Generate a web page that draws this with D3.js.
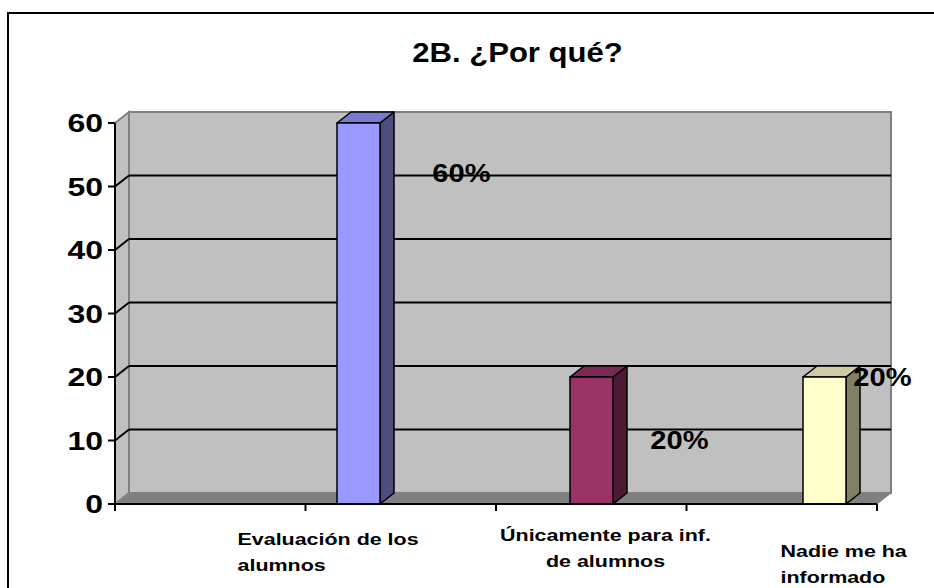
<!DOCTYPE html>
<html><head><meta charset="utf-8">
<script src="https://cdn.jsdelivr.net/npm/d3@7"></script>
<style>body{margin:0;background:#fff}svg{display:block}text{font-family:"Liberation Sans",Arial,sans-serif;font-weight:bold;fill:#000}</style>
</head><body>
<script>
// ---- data ----
const title = "2B. ¿Por qué?";
const categories = ["Evaluación de los alumnos", "Únicamente para inf. de alumnos", "Nadie me ha informado"];
const categoryLines = [["Evaluación de los", "alumnos"], ["Únicamente para inf.", "de alumnos"], ["Nadie me ha", "informado"]];
const values = [60, 20, 20];
const valueLabels = ["60%", "20%", "20%"];
const yTicks = [0, 10, 20, 30, 40, 50, 60];

// ---- layout ----
const W = 934, H = 588;
const DX = 14, DY = -11;
const frontColors = ["#9999ff", "#993366", "#ffffcc"];
const sideColors = ["#4d4d80", "#4d1a33", "#808066"];
const topColors = ["#7a7acc", "#7a2952", "#ccccA3"];
const valDx = [103, 88, 58], valDy = [59, 72, 9];
const catAnchor = ["start", "middle", "start"], catDx = [-121, 14, -44], catBase = [545, 541, 557];

const svg = d3.select("body").append("svg").attr("width", W).attr("height", H);
const y = d3.scaleLinear().domain([0, 60]).range([504, 123]);
const xAxisScale = d3.scaleLinear().domain([0, 4]).range([115, 877]);
const xBar = d3.scalePoint().domain(categories).range([358.5, 824.5]);
const bw = 43;
const x0 = 115, x1 = 877, y0 = y(0), yTop = y(60);

svg.append("rect").attr("x", 8).attr("y", 13).attr("width", 940).attr("height", 600)
  .attr("fill", "#fff").attr("stroke", "#000").attr("stroke-width", 2);

function stext(g, x, yy, txt, size, sx, anchor) {
  g.append("g").attr("transform", `translate(${x},${yy}) scale(${sx},1)`)
    .append("text").attr("font-size", size).attr("text-anchor", anchor).text(txt);
}

stext(svg, 517.5, 62, title, 27, 1.15, "middle");

const pts = a => a.map(p => p.join(",")).join(" ");
// walls
svg.append("polygon").attr("points", pts([[x0 + DX, yTop + DY], [x1 + DX, yTop + DY], [x1 + DX, y0 + DY], [x0 + DX, y0 + DY]]))
  .attr("fill", "#c0c0c0").attr("stroke", "#808080").attr("stroke-width", 2);
svg.append("polygon").attr("points", pts([[x0, yTop], [x0 + DX, yTop + DY], [x0 + DX, y0 + DY], [x0, y0]]))
  .attr("fill", "#c0c0c0").attr("stroke", "#808080").attr("stroke-width", 2);
svg.append("polygon").attr("points", pts([[x0, y0], [x1, y0], [x1 + DX, y0 + DY], [x0 + DX, y0 + DY]]))
  .attr("fill", "#808080").attr("stroke", "#808080").attr("stroke-width", 1);
// gridlines
const grid = yTicks.filter(v => v > 0 && v < 60);
svg.selectAll(".gb").data(grid).join("line")
  .attr("x1", x0 + DX).attr("x2", x1 + DX).attr("y1", d => y(d) + DY).attr("y2", d => y(d) + DY)
  .attr("stroke", "#000").attr("stroke-width", 2);
svg.selectAll(".gs").data(grid).join("line")
  .attr("x1", x0).attr("x2", x0 + DX).attr("y1", d => y(d)).attr("y2", d => y(d) + DY)
  .attr("stroke", "#000").attr("stroke-width", 2);

// bars
const bars = svg.selectAll(".bar").data(values).join("g");
bars.each(function (v, i) {
  const g = d3.select(this);
  const cx = xBar(categories[i]);
  const l = cx - bw / 2, r = cx + bw / 2, t = y(v);
  g.append("polygon").attr("points", pts([[r, t], [r + DX, t + DY], [r + DX, y0 + DY], [r, y0]]))
    .attr("fill", sideColors[i]).attr("stroke", "#000").attr("stroke-width", 1.5).attr("stroke-linejoin", "round");
  g.append("polygon").attr("points", pts([[l, t], [l + DX, t + DY], [r + DX, t + DY], [r, t]]))
    .attr("fill", topColors[i]).attr("stroke", "#000").attr("stroke-width", 1.5).attr("stroke-linejoin", "round");
  g.append("rect").attr("x", l).attr("y", t).attr("width", bw).attr("height", y0 - t)
    .attr("fill", frontColors[i]).attr("stroke", "#000").attr("stroke-width", 1.5);
});

// axes
svg.append("line").attr("x1", x0).attr("x2", x1).attr("y1", y0).attr("y2", y0).attr("stroke", "#000").attr("stroke-width", 2);
svg.append("line").attr("x1", x0).attr("x2", x0).attr("y1", yTop).attr("y2", y0 + 1).attr("stroke", "#000").attr("stroke-width", 2);
svg.selectAll(".xt").data(d3.range(0, 5)).join("line")
  .attr("x1", d => xAxisScale(d)).attr("x2", d => xAxisScale(d)).attr("y1", y0).attr("y2", y0 + 7)
  .attr("stroke", "#000").attr("stroke-width", 2);
svg.selectAll(".yt").data(yTicks).join("line")
  .attr("x1", x0 - 7).attr("x2", x0).attr("y1", d => y(d)).attr("y2", d => y(d))
  .attr("stroke", "#000").attr("stroke-width", 2);
yTicks.forEach(v => stext(svg, 103, y(v) + 9, String(v), 25, 1.28, "end"));

// value labels
values.forEach((v, i) => stext(svg, xBar(categories[i]) + valDx[i], y(v) + valDy[i], valueLabels[i], 26, 1.12, "middle"));

// category labels
categoryLines.forEach((lines, i) => {
  lines.forEach((ln, j) => stext(svg, xBar(categories[i]) + catDx[i], catBase[i] + j * 26, ln, 16.5, 1.3, catAnchor[i]));
});
</script>
</body></html>
